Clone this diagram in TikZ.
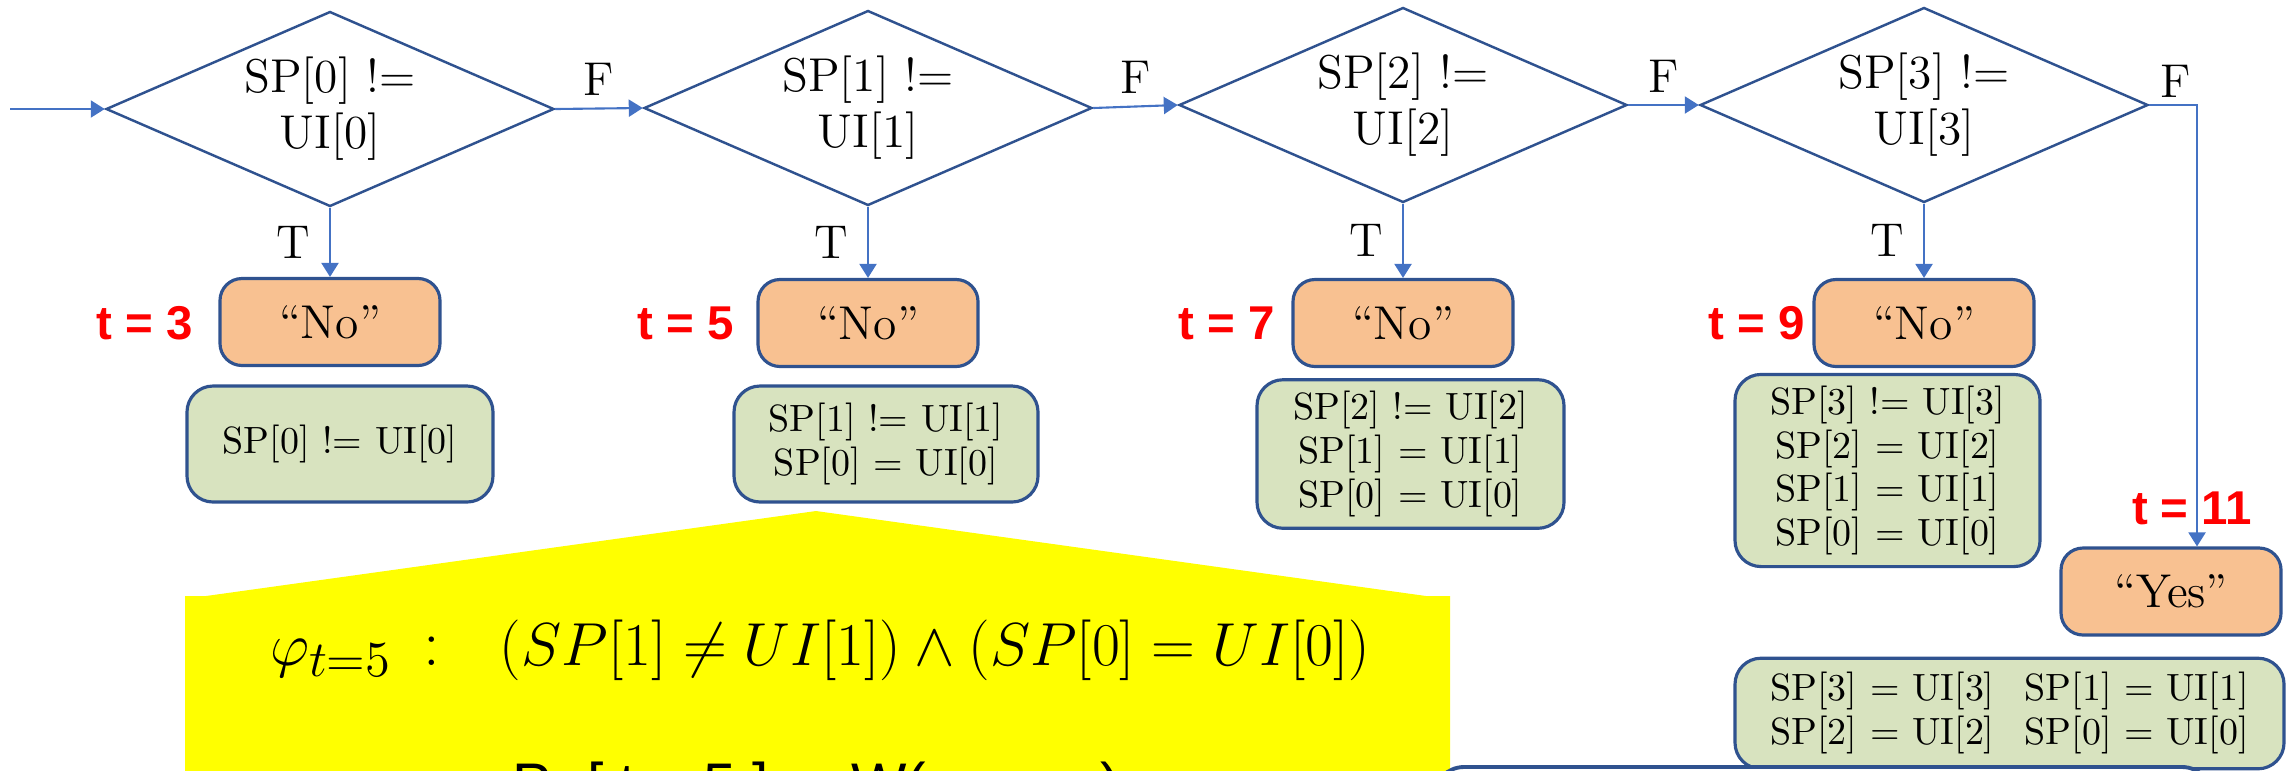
\documentclass[tikz,border=0pt]{standalone}
\usepackage{amsmath,amssymb}
\usepackage{fontspec}
\newfontfamily\labelsans{Liberation Sans}
\usepackage{tikz}
\usetikzlibrary{arrows.meta,positioning,shapes.geometric}
\definecolor{lineB}{RGB}{47,82,143}
\definecolor{flowB}{RGB}{68,114,196}
\definecolor{noO}{RGB}{248,193,145}
\definecolor{factG}{RGB}{216,227,191}
\definecolor{markY}{RGB}{255,255,0}
\definecolor{timeR}{RGB}{255,0,0}

\begin{document}
\begin{tikzpicture}[font=\fontsize{13.5}{16}\selectfont, >={Triangle[length=1.4mm, width=1.7mm]}]
  \useasboundingbox (0,0) rectangle (22.9,-7.7);
  \clip (0,0) rectangle (22.9,-7.7);

  \tikzstyle{test}=[diamond, aspect=2.3, draw=lineB, line width=0.7pt, minimum width=4.48cm,
                    minimum height=1.95cm, inner sep=0pt, align=center]
  \tikzstyle{answer}=[rectangle, rounded corners=2.2mm, draw=lineB, line width=0.9pt,
                      fill=noO, minimum width=2.2cm, minimum height=0.87cm]
  \tikzstyle{facts}=[rectangle, rounded corners=2.6mm, draw=lineB, line width=0.9pt,
                     fill=factG, align=center, font=\fontsize{10.8}{12.4}\selectfont]
  \tikzstyle{flow}=[->, draw=flowB, line width=0.6pt]
  \tikzstyle{tstamp}=[text=timeR, font=\labelsans\bfseries\fontsize{13.5}{16}\selectfont]

  % highlighted formula for t = 5
  \fill[markY] (1.85,-5.96) -- (2.06,-5.96) -- (8.16,-5.11) -- (14.26,-5.96) -- (14.50,-5.96)
               -- (14.50,-8.5) -- (1.85,-8.5) -- cycle;
  \node (phi) at (8.20,-6.50) {\fontsize{18.9}{22}\selectfont
        $\varphi_{t=5}$\ \,{:}\ \ \ $(SP[1] \neq UI[1]) \wedge (SP[0] = UI[0])$};
  \node (prob) at (8.16,-7.89) {\labelsans\fontsize{16.7}{20}\selectfont
        Pr [ t = 5 ] = \ W( \ $\varphi_{t=5}$ \ )};

  % comparisons
  \node[test] (d0) at (3.30,-1.09) {SP[0] !=\\UI[0]};
  \node[test] (d1) at (8.68,-1.08) {SP[1] !=\\UI[1]};
  \node[test] (d2) at (14.03,-1.05) {SP[2] !=\\UI[2]};
  \node[test] (d3) at (19.24,-1.05) {SP[3] !=\\UI[3]};
  \coordinate (in) at (0.10,-1.09);

  % answers
  \node[answer] (no0) at (3.30,-3.22) {``No''};
  \node[answer] (no1) at (8.68,-3.23) {``No''};
  \node[answer] (no2) at (14.03,-3.23) {``No''};
  \node[answer] (no3) at (19.24,-3.23) {``No''};
  \node[answer] (yes) at (21.71,-5.915) {``Yes''};
  \coordinate (yesin) at ([xshift=2.6mm]yes.north);

  % known facts
  \node[facts, minimum width=3.06cm, minimum height=1.16cm] (g0) at (3.40,-4.44)
        {SP[0] != UI[0]};
  \node[facts, minimum width=3.04cm, minimum height=1.16cm] (g1) at (8.86,-4.44)
        {SP[1] != UI[1]\\SP[0] = UI[0]};
  \node[facts, minimum width=3.07cm, minimum height=1.34cm] (g2) at (14.105,-4.54)
        {SP[2] != UI[2]\\SP[1] = UI[1]\\SP[0] = UI[0]};
  \node[facts, minimum width=3.05cm, minimum height=1.75cm] (g3) at (18.875,-4.705)
        {SP[3] != UI[3]\\SP[2] = UI[2]\\SP[1] = UI[1]\\SP[0] = UI[0]};
  \node[facts, minimum width=5.49cm, minimum height=1.03cm] (g4) at (20.095,-7.135)
        {\begin{tabular}{@{}c@{\hspace{3mm}}c@{}}
          SP[3] = UI[3] & SP[1] = UI[1]\\
          SP[2] = UI[2] & SP[0] = UI[0]
         \end{tabular}};
  \draw[lineB, line width=1.1pt, fill=white, rounded corners=3mm]
        (14.34,-7.67) rectangle (22.12,-9.2);

  % control flow
  \draw[flow] (in) -- (d0.west);
  \draw[flow] (d0.east) -- node[above] {F} (d1.west);
  \draw[flow] (d1.east) -- node[above] {F} (d2.west);
  \draw[flow] (d2.east) -- node[above] {F} (d3.west);
  \draw[flow] (d3.east) -| node[pos=0.28, above, yshift=-0.5mm] {F} (yesin);
  \draw[flow] (d0.south) -- node[left=0.7mm] {T} (no0.north);
  \draw[flow] (d1.south) -- node[left=0.7mm] {T} (no1.north);
  \draw[flow] (d2.south) -- node[left=0.7mm] {T} (no2.north);
  \draw[flow] (d3.south) -- node[left=0.7mm] {T} (no3.north);

  % time stamps
  \node[tstamp] (t3) at (1.45,-3.23) {t = 3};
  \node[tstamp] (t5) at (6.86,-3.23) {t = 5};
  \node[tstamp] (t7) at (12.27,-3.23) {t = 7};
  \node[tstamp] (t9) at (17.57,-3.23) {t = 9};
  \node[tstamp] (t11) at (21.92,-5.08) {t = 11};
\end{tikzpicture}
\end{document}
